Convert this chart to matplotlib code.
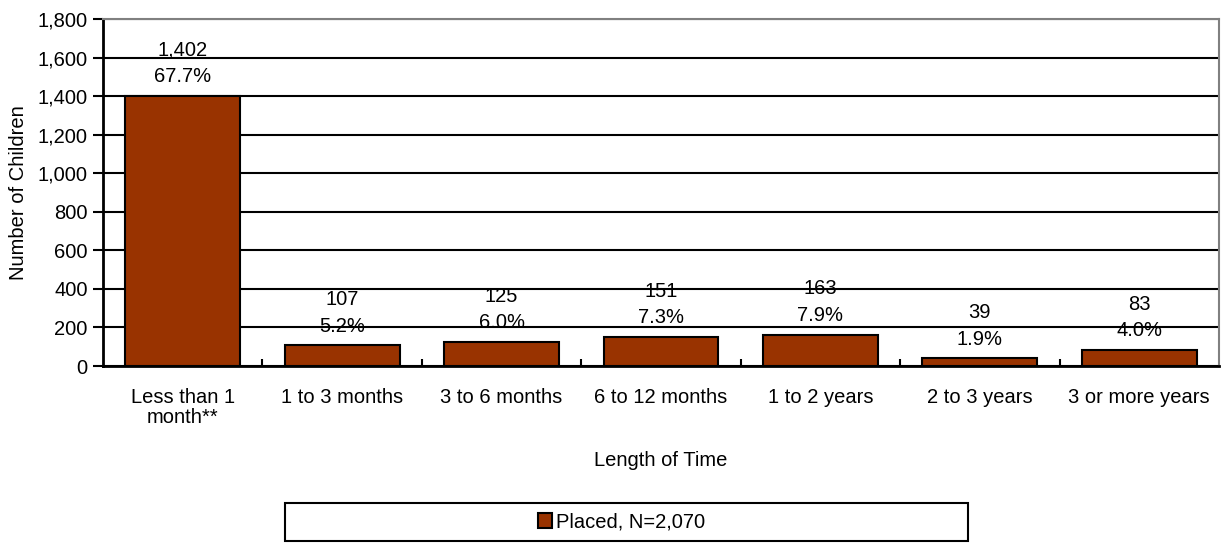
import matplotlib.pyplot as plt
from matplotlib.patches import Patch, Rectangle
from matplotlib.ticker import FuncFormatter

categories = ['Less than 1\nmonth**', '1 to 3 months', '3 to 6 months', '6 to 12 months',
              '1 to 2 years', '2 to 3 years', '3 or more years']
counts = [1402, 107, 125, 151, 163, 39, 83]
percents = ['67.7%', '5.2%', '6.0%', '7.3%', '7.9%', '1.9%', '4.0%']

plt.rcParams['font.family'] = ['Liberation Sans', 'DejaVu Sans']
bar_color = '#993300'
fs = 14.5

fig = plt.figure(figsize=(12.25, 5.46), dpi=100)
ax = fig.add_axes([103 / 1225, 1 - 366 / 546, (1219 - 103) / 1225, (366 - 19) / 546])

x = range(len(categories))
ax.bar(x, counts, width=0.72, color=bar_color, edgecolor='black', linewidth=1.5, zorder=3)

for i in x:
    ax.annotate(f'{counts[i]:,}\n{percents[i]}', (i, counts[i]), xytext=(0, 7),
                textcoords='offset points', ha='center', va='bottom',
                fontsize=fs, linespacing=1.5, zorder=4)

ax.set_ylim(0, 1800)
ax.set_xlim(-0.5, len(categories) - 0.5)
ax.set_yticks(range(0, 1801, 200))
ax.yaxis.set_major_formatter(FuncFormatter(lambda v, p: f'{int(v):,}'))
ax.grid(axis='y', color='black', linewidth=1.5, zorder=1)

ax.set_xticks(list(x))
ax.set_xticklabels(categories, fontsize=fs, linespacing=1.05)
ax.set_xticks([i + 0.5 for i in range(len(categories) - 1)], minor=True)
ax.tick_params(axis='x', which='major', length=0, pad=16)
ax.tick_params(axis='x', which='minor', direction='in', length=5, width=1.5)
ax.tick_params(axis='y', labelsize=fs, length=7, width=1.5, pad=4)

for side in ['left', 'bottom']:
    ax.spines[side].set_linewidth(2)
for side in ['top', 'right']:
    ax.spines[side].set_color('#808080')
    ax.spines[side].set_linewidth(1.5)

ax.set_ylabel('Number of Children', fontsize=fs, labelpad=7)
ax.set_xlabel('Length of Time', fontsize=fs, labelpad=17)

# legend box
fig.patches.append(Rectangle((285 / 1225, 1 - 541 / 546), 683 / 1225, 38 / 546,
                             transform=fig.transFigure, facecolor='white', edgecolor='black',
                             linewidth=1.5))
handle = Patch(facecolor=bar_color, edgecolor='black', linewidth=1.5)
fig.legend([handle], ['Placed, N=2,070'], loc='center', bbox_to_anchor=(622 / 1225, 1 - 522 / 546),
           fontsize=fs, frameon=False, handlelength=0.7, handleheight=0.7, handletextpad=0.2)

fig.savefig('out.png', dpi=100)
